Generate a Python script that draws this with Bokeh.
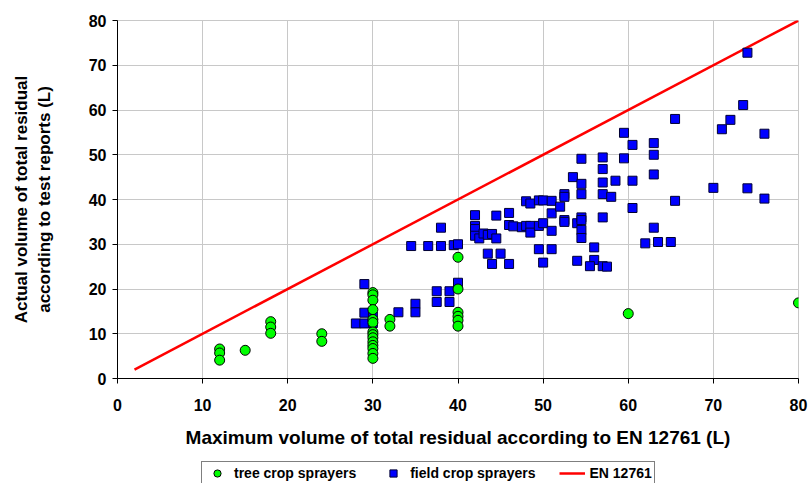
from bokeh.plotting import figure
from bokeh.models import Legend, LegendItem, FixedTicker, Range1d
from bokeh.layouts import column
from bokeh.embed import file_html
from bokeh.resources import INLINE

# tree crop sprayers (green circles)
tree_x = [12, 12, 12, 15, 18, 18, 18, 24, 24,
          30, 30, 30, 30, 30, 30, 30, 30, 30, 30, 30, 30, 30, 30,
          32, 32,
          40, 40, 40, 40, 40, 40,
          60, 80]
tree_y = [6.6, 5.7, 4.1, 6.3, 12.7, 11.5, 10.1, 10.0, 8.3,
          19.2, 18.7, 17.5, 15.4, 13.2, 12.5, 10.4, 9.8, 9.1, 8.2, 7.4, 6.7, 5.6, 4.5,
          13.2, 11.7,
          27.1, 20.0, 14.8, 13.9, 13.0, 11.7,
          14.5, 16.9]

# field crop sprayers (blue squares)
field_x = [29, 29, 28, 29, 30, 30, 33, 35, 35, 37.5, 37.5, 39, 39, 40,
           34.5, 36.5, 38, 38, 39.5, 40,
           42, 42, 42, 42, 42.5, 43, 43.5, 44, 44.5, 44.5, 43.5, 45, 44, 46,
           46, 46, 46.5, 47.5, 48, 48.5, 48.5, 48, 48.5, 49.5, 50, 49.5, 50,
           49.5, 51, 50, 51, 51, 51, 52, 52.5, 52.5, 52.5, 52.5, 53.5, 54, 54,
           54.5, 54.5, 54.5, 54.5, 54.5, 54.5, 54.5, 56, 56, 55.5, 57, 57.5,
           57, 57, 57, 57, 57, 58, 58.5, 59.5, 59.5, 60.5, 60.5, 60.5, 62,
           63, 63, 63, 63, 63.5, 65, 65.5, 65.5, 70, 71, 72, 73.5, 74, 74,
           76, 76]
field_y = [21.1, 14.7, 12.3, 12.3, 13.9, 12.4, 14.8, 16.7, 14.8, 19.5, 17.1, 19.5, 17.1, 21.4,
           29.6, 29.6, 33.7, 29.6, 29.8, 30.0,
           36.5, 34.1, 33.4, 31.9, 31.3, 32.4, 32.1, 32.3, 31.3, 36.4, 27.9, 27.9, 25.6, 25.6,
           37.0, 34.3, 34.0, 33.8, 34.1, 34.1, 32.6, 39.6, 39.1, 39.8, 39.8, 34.1, 34.7,
           28.9, 28.9, 25.9, 39.7, 36.9, 33.0, 38.4, 41.2, 40.6, 35.4, 35.0, 45.0, 34.7, 26.3,
           49.1, 43.5, 41.2, 36.0, 35.4, 33.2, 31.4, 29.3, 26.5, 25.1, 25.1, 25.0,
           49.4, 46.8, 43.8, 41.2, 36.0, 40.6, 44.2, 54.9, 49.2, 52.2, 44.2, 38.1, 30.2,
           52.6, 50.0, 45.6, 33.7, 30.5, 30.5, 58.0, 39.7, 42.6, 55.7, 57.8, 61.1, 72.8, 42.5,
           54.7, 40.2]

# EN 12761 limit line
en_x = [2, 80]
en_y = [2, 80]

ticks = [0, 10, 20, 30, 40, 50, 60, 70, 80]
labels = ["tree crop sprayers", "field crop sprayers", "EN 12761"]

FONT = "Liberation Sans"
TREE_STYLE = dict(marker="circle", fill_color="#00ff00", line_color="#000000", line_width=1)
FIELD_STYLE = dict(marker="square", fill_color="#0000ff", line_color="#000033", line_width=1)
LINE_STYLE = dict(line_color="#ff0000", line_width=2.5)

p = figure(width=808, height=460, output_backend="svg", toolbar_location=None,
           x_range=Range1d(0, 80), y_range=Range1d(0, 80),
           min_border_left=117, min_border_right=10, min_border_top=20,
           min_border_bottom=82)

p.xgrid.grid_line_color = "#c8c8c8"
p.ygrid.grid_line_color = "#c8c8c8"
p.outline_line_color = "#c8c8c8"

for ax in (p.xaxis[0], p.yaxis[0]):
    ax.ticker = FixedTicker(ticks=ticks)
    ax.minor_tick_line_color = None
    ax.major_tick_in = 0
    ax.major_tick_out = 5
    ax.axis_line_color = "black"
    ax.major_tick_line_color = "black"
    ax.major_label_text_font = FONT
    ax.major_label_text_font_style = "bold"
    ax.major_label_text_font_size = "16px"
    ax.major_label_text_color = "black"
    ax.axis_label_text_font = FONT
    ax.axis_label_text_font_style = "bold"
    ax.axis_label_text_color = "black"

p.xaxis.axis_label = "Maximum volume of total residual according to EN 12761 (L)"
p.xaxis.axis_label_text_font_size = "19px"
p.xaxis.major_label_standoff = 15
p.xaxis.axis_label_standoff = 13

p.yaxis.axis_label = "Actual volume of total residual\naccording to test reports (L)"
p.yaxis.axis_label_text_font_size = "17px"
p.yaxis.major_label_standoff = 6
p.yaxis.axis_label_standoff = 32

p.line(en_x, en_y, **LINE_STYLE)
p.scatter(field_x, field_y, size=9, **FIELD_STYLE)
p.scatter(tree_x, tree_y, size=10, **TREE_STYLE)

# legend strip below the chart (same data, drawn out of view, only for the legend)
lg = figure(width=808, height=23, output_backend="svg", toolbar_location=None,
            x_axis_location=None, y_axis_location=None,
            x_range=Range1d(1000, 1001), y_range=Range1d(1000, 1001),
            min_border=0, outline_line_color=None)
lg.xgrid.visible = False
lg.ygrid.visible = False
d_tree = lg.scatter(tree_x, tree_y, size=8, **TREE_STYLE)
d_field = lg.scatter(field_x, field_y, size=8, **FIELD_STYLE)
d_line = lg.line(en_x, en_y, **LINE_STYLE)

legend = Legend(items=[
    LegendItem(label=labels[0], renderers=[d_tree]),
    LegendItem(label=labels[1], renderers=[d_field]),
    LegendItem(label=labels[2], renderers=[d_line]),
], orientation="horizontal", location=(84, -2))
legend.label_text_font = FONT
legend.label_text_font_style = "bold"
legend.label_text_font_size = "14px"
legend.label_text_color = "black"
legend.label_height = 18
legend.glyph_height = 18
legend.glyph_width = 26
legend.label_standoff = 4
legend.spacing = 24
legend.padding = 2
legend.margin = 0
legend.border_line_color = "black"
legend.border_line_width = 1
legend.background_fill_color = "white"
legend.background_fill_alpha = 1
lg.add_layout(legend, "center")

layout = column(p, lg, spacing=0)
open("out.html", "w").write(file_html(layout, INLINE))
